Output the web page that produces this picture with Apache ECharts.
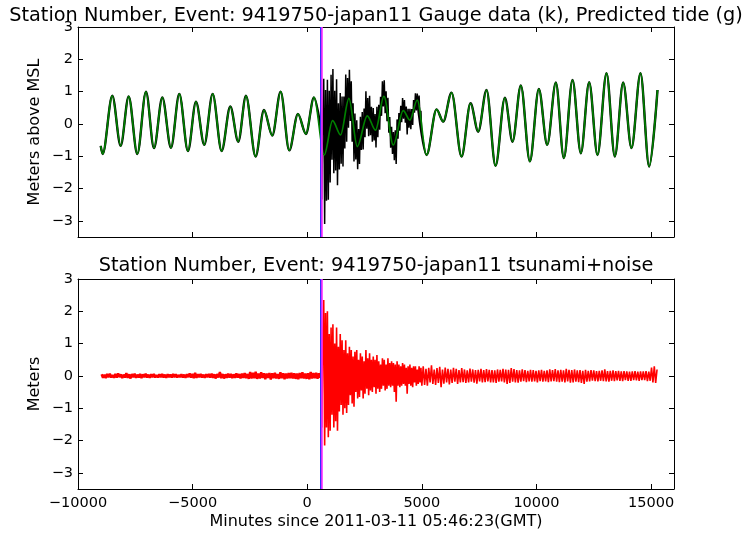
<!DOCTYPE html>
<html>
<head>
<meta charset="utf-8">
<script src="https://cdn.jsdelivr.net/npm/echarts@6/dist/echarts.min.js"></script>
<style>
  html, body { margin: 0; padding: 0; background: #fff; }
  #chart { width: 745px; height: 537px; }
</style>
</head>
<body>
<div id="chart"></div>
<script>
// Predicted tide: turning points (minutes since 2011-03-11 05:46:23 GMT, metres above MSL)
const tideTimes = [
  -9010, -8924, -8503, -8139, -7790, -7412, -7034, -6685, -6322, -5944,
  -5581, -5203, -4854, -4491, -4127, -3734, -3357, -3008, -2673, -2252,
  -1888, -1525, -1161, -784, -406, -57, 292, 743, 1106, 1455,
  1819, 2182, 2618, 2981, 3345, 3752, 4188, 4479, 4798, 5206,
  5642, 5932, 6296, 6732, 7124, 7459, 7822, 8215, 8622, 8956,
  9319, 9712, 10104, 10468, 10846, 11195, 11573, 11936, 12299, 12663,
  13056, 13419, 13782, 14146, 14538, 14916, 15280
];
const tideLevels = [
  -0.68, -0.93, 0.87, -0.68, 0.85, -0.93, 1.00, -0.75, 0.82, -0.74,
  0.93, -0.84, 0.69, -0.65, 0.93, -0.84, 0.54, -0.55, 0.87, -1.01,
  0.43, -0.36, 1.00, -0.82, 0.31, -0.31, 0.82, -0.96, 0.10, -0.34,
  0.79, -0.70, 0.25, -0.19, 0.85, -0.65, 0.41, 0.12, 0.74, -0.96,
  0.45, 0.07, 0.97, -1.01, 0.64, -0.24, 1.05, -1.30, 0.81, -0.55,
  1.19, -1.16, 1.08, -0.65, 1.28, -1.06, 1.36, -0.91, 1.29, -0.96,
  1.57, -1.01, 1.28, -0.75, 1.57, -1.32, 1.05
];

// Gauge record while the tsunami is running (every 40 min from t = 600)
const gaugeWaveStart = 600;
const gaugeWaveStep = 40;
const gaugeWave = [
  -0.25, -2.34, 0.43, 1.40, -3.10, 1.05, -2.38, 1.37, -2.35, 1.03,
  -1.81, 1.52, -1.11, 1.70, -1.53, 1.03, -1.44, 1.38, -1.90, 0.64,
  -1.41, 0.96, -1.23, 0.85, -1.32, 0.85, -0.76, 1.53, -0.55, 1.42,
  -0.12, 1.68, 0.09, 1.32, -0.55, 0.64, -1.16, 0.32, -1.10, 0.11,
  -1.40, -0.16, -1.24, 0.22, -0.81, 0.37, -0.79, 0.48, -0.41, 1.01,
  -0.15, 0.80, -0.38, 0.87, -0.35, 0.53, -0.55, 0.49, -0.51, 0.31,
  -0.73, 0.53, -0.41, 0.59, -0.18, 0.84, 0.25, 1.32, 0.54, 1.35,
  0.33, 1.01, 0.08, 0.81, -0.27, 0.21, -0.74, -0.09, -0.93, -0.25,
  -1.12, -0.20, -1.24, 0.14, -0.46, 0.34, -0.21, 0.56, 0.05, 0.80,
  0.16, 0.74, 0.04, 0.54, -0.33, 0.47, -0.12, 0.47, -0.16, 0.46,
  -0.03, 0.74, 0.35, 0.95, 0.42, 0.94, 0.45, 0.88, 0.19, 0.41,
  -0.40
];

// Residual (gauge minus tide) before the arrival, every 60 min from t = -8970
const residualPreStart = -8970;
const residualPreStep = 60;
const residualPre = [
  0.05, -0.06, 0.04, -0.07, 0.06, -0.04, 0.07, -0.05, 0.03, -0.06,
  0.06, -0.05, 0.08, -0.04, 0.05, -0.07, 0.04, -0.05, 0.09, -0.06,
  0.05, -0.08, 0.06, -0.04, 0.07, -0.06, 0.04, -0.05, 0.06, -0.07,
  0.05, -0.04, 0.07, -0.05, 0.04, -0.06, 0.05, -0.04, 0.06, -0.05,
  0.03, -0.05, 0.05, -0.04, 0.06, -0.05, 0.04, -0.06, 0.05, -0.04,
  0.04, -0.05, 0.06, -0.04, 0.05, -0.05, 0.03, -0.04, 0.05, -0.05,
  0.04, -0.06, 0.05, -0.04, 0.08, -0.05, 0.06, -0.07, 0.10, -0.06,
  0.05, -0.04, 0.06, -0.05, 0.04, -0.06, 0.05, -0.04, 0.06, -0.05,
  0.07, -0.06, 0.05, -0.08, 0.06, -0.05, 0.12, -0.07, 0.06, -0.08,
  0.05, -0.06, 0.07, -0.05, 0.06, -0.07, 0.05, -0.06, 0.08, -0.05,
  0.06, -0.08, 0.07, -0.06, 0.09, -0.07, 0.06, -0.09, 0.12, -0.08,
  0.10, -0.07, 0.13, -0.09, 0.07, -0.08, 0.11, -0.06, 0.08, -0.10,
  0.07, -0.06, 0.09, -0.11, 0.08, -0.07, 0.10, -0.08, 0.06, -0.09,
  0.11, -0.07, 0.08, -0.10, 0.07, -0.08, 0.09, -0.07, 0.10, -0.08,
  0.08, -0.09, 0.07, -0.10, 0.09, -0.07, 0.11, -0.08, 0.07, -0.09,
  0.08, -0.10, 0.12, -0.08, 0.09, -0.07, 0.10, -0.09, 0.08, -0.06
];

// Residual during the tsunami, every 40 min from t = 600
const residualWaveStart = 600;
const residualWaveStep = 40;
const residualWave = [
  0.30, -1.60, 1.30, 2.35, -2.15, 1.95, -1.60, 2.00, -1.90, 1.30,
  -1.70, 1.50, -1.20, 1.60, -1.60, 1.00, -1.40, 1.50, -1.70, 0.90,
  -1.10, 1.30, -0.90, 1.10, -1.20, 0.80, -1.00, 1.10, -1.15, 0.70,
  -0.90, 0.90, -0.60, 0.80, -0.85, 0.60, -0.95, 0.75, -0.50, 0.80,
  -0.70, 0.50, -0.65, 0.70, -0.45, 0.60, -0.70, 0.45, -0.55, 0.80,
  -0.40, 0.55, -0.60, 0.70, -0.45, 0.50, -0.50, 0.60, -0.35, 0.50,
  -0.55, 0.65, -0.40, 0.45, -0.50, 0.35, -0.40, 0.55, -0.30, 0.50,
  -0.45, 0.35, -0.40, 0.55, -0.30, 0.40, -0.35, 0.45, -0.30, 0.40,
  -0.50, 0.35, -0.80, 0.45, -0.30, 0.35, -0.35, 0.30, -0.30, 0.40,
  -0.25, 0.35, -0.30, 0.25, -0.55, 0.30, -0.25, 0.35, -0.30, 0.25,
  -0.35, 0.30, -0.20, 0.30, -0.30, 0.20, -0.25, 0.30, -0.20, 0.25,
  -0.30
];

// Residual after the main wave train, every 60 min from t = 5060
const residualLateStart = 5060;
const residualLateStep = 60;
const residualLate = [
  0.30, -0.28, 0.22, -0.30, 0.25, -0.20, 0.33, -0.25, 0.20, -0.28,
  0.24, -0.22, 0.28, -0.35, 0.20, -0.24, 0.26, -0.20, 0.22, -0.26,
  0.20, -0.22, 0.25, -0.18, 0.22, -0.25, 0.18, -0.20, 0.24, -0.19,
  0.20, -0.22, 0.17, -0.20, 0.23, -0.18, 0.20, -0.21, 0.18, -0.24,
  0.19, -0.17, 0.22, -0.20, 0.18, -0.19, 0.21, -0.17, 0.19, -0.20,
  0.18, -0.20, 0.17, -0.22, 0.20, -0.18, 0.19, -0.17, 0.22, -0.20,
  0.20, -0.25, 0.19, -0.22, 0.24, -0.18, 0.21, -0.20, 0.18, -0.21,
  0.17, -0.18, 0.20, -0.16, 0.18, -0.19, 0.16, -0.17, 0.19, -0.18,
  0.18, -0.17, 0.16, -0.20, 0.17, -0.16, 0.19, -0.18, 0.16, -0.17,
  0.17, -0.19, 0.20, -0.17, 0.18, -0.16, 0.21, -0.18, 0.17, -0.19,
  0.19, -0.18, 0.17, -0.20, 0.22, -0.17, 0.19, -0.21, 0.18, -0.20,
  0.20, -0.18, 0.17, -0.19, 0.18, -0.22, 0.16, -0.25, 0.19, -0.18,
  0.16, -0.17, 0.18, -0.15, 0.17, -0.16, 0.15, -0.17, 0.16, -0.15,
  0.17, -0.16, 0.20, -0.17, 0.15, -0.18, 0.16, -0.15, 0.17, -0.16,
  0.15, -0.14, 0.16, -0.15, 0.14, -0.16, 0.15, -0.13, 0.14, -0.15,
  0.13, -0.15, 0.14, -0.13, 0.15, -0.14, 0.13, -0.15, 0.14, -0.13,
  0.14, -0.13, 0.15, -0.16, 0.13, -0.15, 0.26, -0.20, 0.30, -0.22,
  0.20
];

// Arrival markers (minutes)
const arrivalBlue = 585;
const arrivalMagenta = 655;

// Axis ticks
const xTicks = [-10000, -5000, 0, 5000, 10000, 15000];
const yTicks = [-3, -2, -1, 0, 1, 2, 3];

const titleTop = 'Station Number, Event: 9419750-japan11 Gauge data (k), Predicted tide (g)';
const titleBottom = 'Station Number, Event: 9419750-japan11 tsunami+noise';
const xName = 'Minutes since 2011-03-11 05:46:23(GMT)';
const yNameTop = 'Meters above MSL';
const yNameBottom = 'Meters';

function regular(start, step, values) {
  return values.map((v, i) => [start + step * i, v]);
}
function zipPairs(ts, vs) {
  return ts.map((t, i) => [t, vs[i]]);
}

const tideData = zipPairs(tideTimes, tideLevels);
const gaugeBefore = tideData.filter(p => p[0] <= 743);
const gaugeAfter = tideData.filter(p => p[0] >= 4798);
const gaugeDuring = regular(gaugeWaveStart, gaugeWaveStep, gaugeWave);
const residualQuiet = regular(residualPreStart, residualPreStep, residualPre);
const residualActive = [[residualPreStart + residualPreStep * (residualPre.length - 1), residualPre[residualPre.length - 1]]]
  .concat(regular(residualWaveStart, residualWaveStep, residualWave))
  .concat(regular(residualLateStart, residualLateStep, residualLate));

const FONT = '"DejaVu Sans", "Liberation Sans", sans-serif';
const minus = v => String(v).replace('-', '\u2212');

function xAxisFor(gridIndex, position, labels) {
  return {
    type: 'value', gridIndex, position,
    min: -10000, max: 16000,
    axisLine: { show: true, onZero: false, lineStyle: { color: '#000', width: 1 } },
    axisTick: { show: true, inside: true, length: 5, customValues: xTicks, lineStyle: { color: '#000', width: 1 } },
    axisLabel: {
      show: labels, customValues: xTicks, formatter: minus, margin: 7,
      color: '#000', fontFamily: FONT, fontSize: 14.5
    },
    splitLine: { show: false }
  };
}
function yAxisFor(gridIndex, position, labels) {
  return {
    type: 'value', gridIndex, position,
    min: -3.5, max: 3,
    axisLine: { show: true, onZero: false, lineStyle: { color: '#000', width: 1 } },
    axisTick: { show: true, inside: true, length: 5, customValues: yTicks, lineStyle: { color: '#000', width: 1 } },
    axisLabel: {
      show: labels, customValues: yTicks, formatter: minus, margin: 5,
      color: '#000', fontFamily: FONT, fontSize: 14.5
    },
    splitLine: { show: false }
  };
}

function arrivalLines() {
  return {
    silent: true, symbol: 'none', label: { show: false },
    data: [
      { xAxis: arrivalBlue, lineStyle: { color: '#3030ff', width: 2, type: 'solid' } },
      { xAxis: arrivalMagenta, lineStyle: { color: '#ff30ff', width: 1.6, type: 'solid' } }
    ]
  };
}

const lineBase = { type: 'line', showSymbol: false, symbol: 'none', silent: true, animation: false };

const chart = echarts.init(document.getElementById('chart'), null, { renderer: 'canvas' });
chart.setOption({
  animation: false,
  backgroundColor: '#fff',
  grid: [
    { left: 78, top: 27, width: 596, height: 210, outerBoundsMode: 'none' },
    { left: 78, top: 279, width: 596, height: 210, outerBoundsMode: 'none' }
  ],
  xAxis: [
    xAxisFor(0, 'bottom', false), xAxisFor(0, 'top', false),
    xAxisFor(1, 'bottom', true), xAxisFor(1, 'top', false)
  ],
  yAxis: [
    yAxisFor(0, 'left', true), yAxisFor(0, 'right', false),
    yAxisFor(1, 'left', true), yAxisFor(1, 'right', false)
  ],
  series: [
    Object.assign({}, lineBase, {
      name: 'gauge', xAxisIndex: 0, yAxisIndex: 0, data: gaugeBefore,
      smooth: 0.33, smoothMonotone: 'x', lineStyle: { color: '#000', width: 2.4 }
    }),
    Object.assign({}, lineBase, {
      name: 'gauge', xAxisIndex: 0, yAxisIndex: 0, data: gaugeAfter,
      smooth: 0.33, smoothMonotone: 'x', lineStyle: { color: '#000', width: 2.4 }
    }),
    Object.assign({}, lineBase, {
      name: 'gauge', xAxisIndex: 0, yAxisIndex: 0, data: gaugeDuring,
      lineStyle: { color: '#000', width: 1.5 }
    }),
    Object.assign({}, lineBase, {
      name: 'tide', xAxisIndex: 0, yAxisIndex: 0, data: tideData,
      smooth: 0.33, smoothMonotone: 'x', lineStyle: { color: '#008000', width: 1.7 },
      markLine: arrivalLines()
    }),
    Object.assign({}, lineBase, {
      name: 'residual', xAxisIndex: 2, yAxisIndex: 2, data: residualQuiet,
      lineStyle: { color: '#ff0000', width: 2.4 }
    }),
    Object.assign({}, lineBase, {
      name: 'residual', xAxisIndex: 2, yAxisIndex: 2, data: residualActive,
      lineStyle: { color: '#ff0000', width: 1.6 },
      markLine: arrivalLines()
    })
  ],
  graphic: [
    { type: 'text', x: 376, y: 16, silent: true,
      style: { text: titleTop, fill: '#000', font: '19.3px ' + FONT, align: 'center', verticalAlign: 'middle', textAlign: 'center', textVerticalAlign: 'middle' } },
    { type: 'text', x: 376, y: 266, silent: true,
      style: { text: titleBottom, fill: '#000', font: '19.3px ' + FONT, align: 'center', verticalAlign: 'middle', textAlign: 'center', textVerticalAlign: 'middle' } },
    { type: 'text', x: 376, y: 522, silent: true,
      style: { text: xName, fill: '#000', font: '16px ' + FONT, align: 'center', verticalAlign: 'middle', textAlign: 'center', textVerticalAlign: 'middle' } },
    { type: 'text', x: 35, y: 132, rotation: Math.PI / 2, silent: true,
      style: { text: yNameTop, fill: '#000', font: '16px ' + FONT, align: 'center', verticalAlign: 'middle', textAlign: 'center', textVerticalAlign: 'middle' } },
    { type: 'text', x: 35, y: 384, rotation: Math.PI / 2, silent: true,
      style: { text: yNameBottom, fill: '#000', font: '16px ' + FONT, align: 'center', verticalAlign: 'middle', textAlign: 'center', textVerticalAlign: 'middle' } }
  ]
});
</script>
</body>
</html>
